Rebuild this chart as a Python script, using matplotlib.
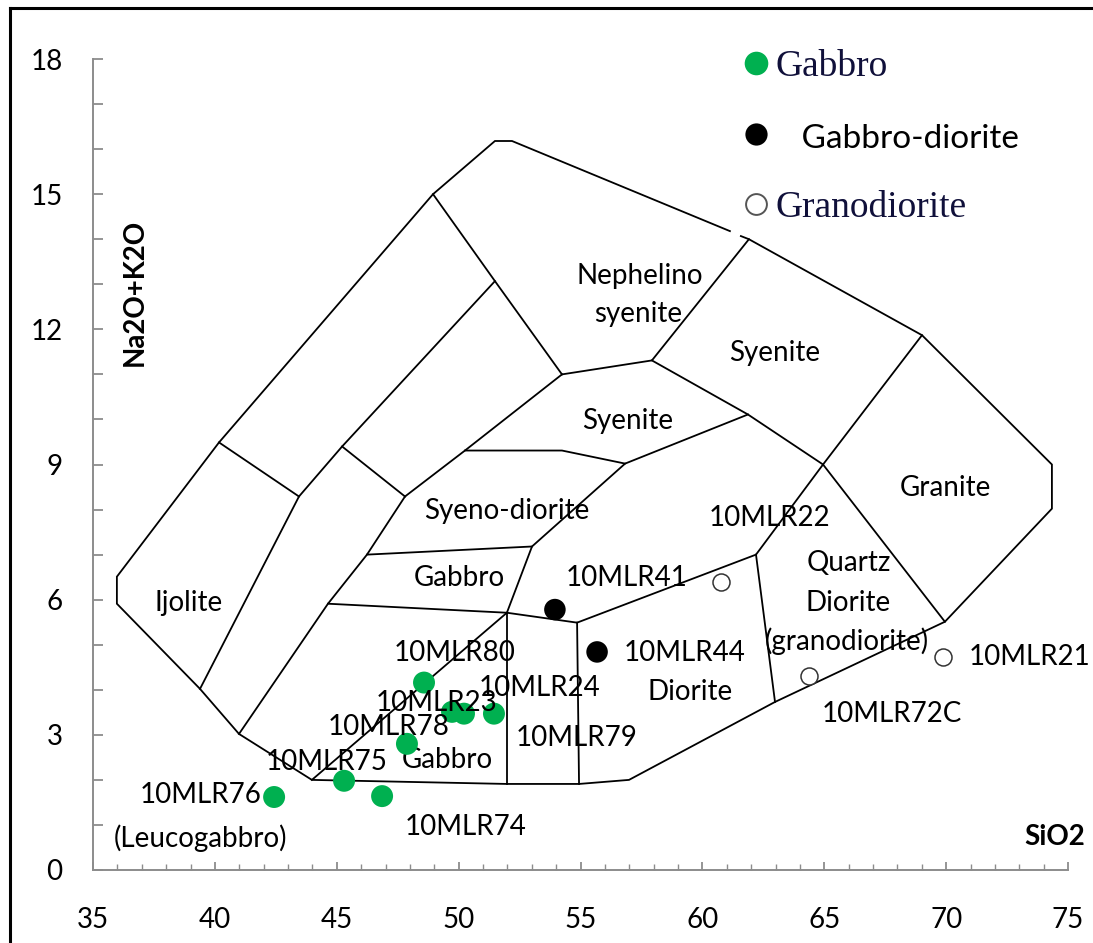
import matplotlib
matplotlib.use("Agg")
import matplotlib.pyplot as plt
from matplotlib.lines import Line2D
from matplotlib.ticker import MultipleLocator

# ---------------- data ----------------
# Classification diagram boundaries (SiO2, Na2O+K2O)
outer_boundary = [(61.58, 14.07), (61.91, 14.00), (69.01, 11.87), (74.34, 9.00), (74.34, 8.02),
                  (69.95, 5.51), (62.98, 3.73), (56.99, 2.00), (54.94, 1.91), (51.98, 1.91),
                  (43.98, 2.00), (40.99, 3.02), (39.39, 4.02), (35.98, 5.91), (35.98, 6.51),
                  (40.17, 9.49), (48.95, 15.00), (51.49, 16.18), (52.19, 16.18), (61.13, 14.18)]
line_ijolite = [(40.17, 9.49), (43.45, 8.29), (39.39, 4.02)]
line_neph_left = [(48.95, 15.00), (51.49, 13.07), (54.24, 11.00)]
line_inner_diag = [(51.49, 13.07), (45.22, 9.40), (43.45, 8.29)]
line_short = [(45.22, 9.40), (47.80, 8.29)]
line_gabbro_left = [(47.80, 8.29), (46.24, 7.00), (44.64, 5.91), (40.99, 3.02)]
line_syeno_top = [(47.80, 8.29), (50.26, 9.31), (54.24, 11.00)]
line_syenite_bottom = [(50.26, 9.31), (54.24, 9.31), (56.83, 9.02), (61.87, 10.11)]
line_neph_bottom = [(54.24, 11.00), (57.93, 11.31), (61.91, 14.00)]
line_syenite_right = [(57.93, 11.31), (61.87, 10.11), (64.95, 9.00), (69.95, 5.51)]
line_granite_left = [(69.01, 11.87), (64.95, 9.00), (62.20, 7.00), (54.86, 5.49),
                     (51.98, 5.71), (44.64, 5.91)]
line_syeno_right = [(56.83, 9.02), (53.01, 7.18), (51.98, 5.71)]
line_gabbro_top = [(46.24, 7.00), (53.01, 7.18)]
line_v1 = [(51.98, 5.71), (51.98, 1.91)]
line_v2 = [(54.86, 5.49), (54.94, 1.91)]
line_qd = [(62.20, 7.00), (62.98, 3.73)]
line_leuco = [(51.98, 5.71), (43.98, 2.00)]
boundaries = [outer_boundary, line_ijolite, line_neph_left, line_inner_diag, line_short,
              line_gabbro_left, line_syeno_top, line_syenite_bottom, line_neph_bottom,
              line_syenite_right, line_granite_left, line_syeno_right, line_gabbro_top,
              line_v1, line_v2, line_qd, line_leuco]

# Samples
gabbro_names = ["10MLR76", "10MLR75", "10MLR74", "10MLR78", "10MLR80", "10MLR23", "10MLR23b", "10MLR24"]
gabbro_sio2 = [42.43, 45.30, 46.86, 47.88, 48.58, 49.73, 50.22, 51.45]
gabbro_alk = [1.62, 1.98, 1.64, 2.80, 4.16, 3.51, 3.47, 3.47]

gd_names = ["10MLR41", "10MLR44"]
gd_sio2 = [53.95, 55.68]
gd_alk = [5.78, 4.84]

grd_names = ["10MLR22", "10MLR72C", "10MLR21"]
grd_sio2 = [60.76, 64.37, 69.87]
grd_alk = [6.40, 4.31, 4.73]

# Region names and their placement (data coords)
region_texts = ["Nephelino", "syenite", "Syenite", "Syenite", "Syeno-diorite", "Gabbro",
                "Ijolite", "Gabbro", "Granite", "Quartz", "Diorite", "(granodiorite)", "Diorite"]
region_x = [57.44, 57.36, 62.98, 56.95, 51.98, 50.02, 38.94, 49.52, 69.99, 66.02, 65.97, 65.93, 59.49]
region_y = [13.18, 12.33, 11.47, 9.96, 7.96, 6.47, 5.93, 2.44, 8.47, 6.82, 5.93, 5.07, 3.96]

# Sample label texts and placement (data coords)
sample_texts = ["10MLR80", "10MLR23", "10MLR24", "10MLR78", "10MLR75", "10MLR76", "(Leucogabbro)",
                "10MLR74", "10MLR79", "10MLR41", "10MLR44", "10MLR22", "10MLR72C", "10MLR21"]
sample_lx = [49.85, 49.11, 53.34, 47.14, 44.60, 39.43, 39.43, 50.30, 54.86, 56.91, 59.29, 62.77, 67.78, 73.44]
sample_ly = [4.82, 3.71, 4.04, 3.18, 2.40, 1.67, 0.71, 0.96, 2.93, 6.47, 4.82, 7.82, 3.47, 4.73]

x_ticks = [35, 40, 45, 50, 55, 60, 65, 70, 75]
y_ticks = [0, 3, 6, 9, 12, 15, 18]

# ---------------- figure ----------------
W, H = 1093, 943
fig = plt.figure(figsize=(W / 100, H / 100), dpi=100)
ax = fig.add_axes([93 / W, 1 - 870 / H, (1068 - 93) / W, (870 - 59) / H])
ax.set_xlim(35, 75)
ax.set_ylim(0, 18)

SANS = ["Lato", "DejaVu Sans"]
SERIF = ["Liberation Serif", "DejaVu Serif"]

for seg in boundaries:
    xs = [p[0] for p in seg]
    ys = [p[1] for p in seg]
    ax.plot(xs, ys, color="black", lw=1.3, solid_joinstyle="miter", zorder=2)

green = "#00B050"
ax.scatter(gabbro_sio2, gabbro_alk, s=250, color=green, edgecolors="none", zorder=4)
ax.scatter(gd_sio2, gd_alk, s=240, color="black", edgecolors="none", zorder=4)
ax.scatter(grd_sio2, grd_alk, s=150, facecolors="white", edgecolors="#333333", linewidths=1.1, zorder=4)

for t, x, y in zip(region_texts, region_x, region_y):
    ax.text(x, y, t, ha="center", va="center", fontsize=20, family=SANS, color="black", zorder=3)
for t, x, y in zip(sample_texts, sample_lx, sample_ly):
    ax.text(x, y, t, ha="center", va="center", fontsize=20, family=SANS, color="black",
            zorder=5, clip_on=False)

# axes styling
for s in ["top", "right"]:
    ax.spines[s].set_visible(False)
for s in ["left", "bottom"]:
    ax.spines[s].set_color("#8c8c8c")
    ax.spines[s].set_linewidth(1.4)
ax.set_xticks(x_ticks)
ax.set_yticks(y_ticks)
ax.xaxis.set_minor_locator(MultipleLocator(1))
ax.yaxis.set_minor_locator(MultipleLocator(1))
ax.tick_params(axis="x", which="major", direction="in", length=6, width=1.3, color="#8c8c8c",
               pad=27, labelsize=20, labelcolor="black")
ax.tick_params(axis="x", which="minor", direction="in", length=4, width=1.0, color="#8c8c8c")
ax.tick_params(axis="y", which="both", direction="in", length=7, width=1.3, color="#8c8c8c",
               pad=22, labelsize=20, labelcolor="black")
for lab in ax.get_xticklabels() + ax.get_yticklabels():
    lab.set_family(SANS)

fig.text(135 / W, 1 - 292 / H, "Na2O+K2O", rotation=90, ha="center", va="center",
         fontsize=20, fontweight="bold", family=SANS)
fig.text(1055 / W, 1 - 837 / H, "SiO2", ha="center", va="center",
         fontsize=20, fontweight="bold", family=SANS)

# legend
handles = [
    Line2D([], [], ls="none", marker="o", markersize=17, markerfacecolor=green, markeredgecolor="none"),
    Line2D([], [], ls="none", marker="o", markersize=16, markerfacecolor="black", markeredgecolor="none"),
    Line2D([], [], ls="none", marker="o", markersize=15, markerfacecolor="white",
           markeredgecolor="#555555", markeredgewidth=1.4),
]
labels = ["Gabbro", "   Gabbro-diorite", "Granodiorite"]
leg = fig.legend(handles, labels, loc="upper left", bbox_to_anchor=(745 / W, 1 - 50 / H),
                 bbox_transform=fig.transFigure, frameon=False, handlelength=0.6,
                 handletextpad=0.22, borderpad=0, borderaxespad=0, labelspacing=0.98,
                 prop={"family": SERIF, "size": 27})
texts = leg.get_texts()
texts[0].set_color("#10103a")
texts[2].set_color("#10103a")
texts[1].set_fontfamily(SANS)
texts[1].set_fontsize(24)
texts[1].set_color("black")

# figure border (top and left)
fig.add_artist(Line2D([10 / W, 10 / W], [0, 1 - 7.5 / H], transform=fig.transFigure,
                      color="black", lw=2.2))
fig.add_artist(Line2D([10 / W, 1], [1 - 7.5 / H, 1 - 7.5 / H], transform=fig.transFigure,
                      color="black", lw=2.2))

fig.savefig("out.png", dpi=100)
